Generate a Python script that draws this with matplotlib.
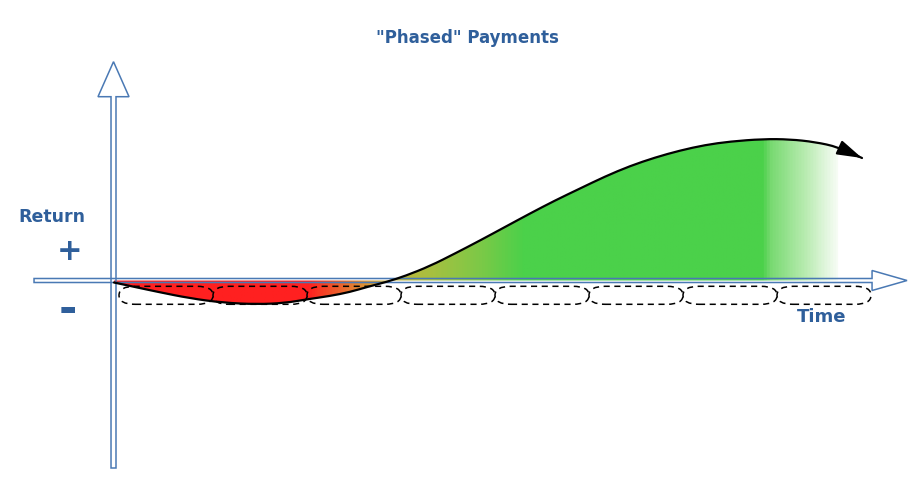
import numpy as np
import matplotlib
matplotlib.use("Agg")
import matplotlib.pyplot as plt
from matplotlib.patches import FancyArrow, PathPatch, FancyBboxPatch
from matplotlib.path import Path
from matplotlib.colors import LinearSegmentedColormap

# ---- data (time in payment periods, return in arbitrary units) ----
time = [-0.053, 0.170, 0.404, 0.755, 1.106, 1.468, 1.766, 2.000, 2.245, 2.457,
        2.638, 2.851, 3.043, 3.309, 3.574, 3.840, 4.106, 4.372, 4.638, 4.904,
        5.170, 5.436, 5.702, 5.968, 6.234, 6.500, 6.851, 7.138, 7.404, 7.649, 7.904]
ret = [-0.20, -0.65, -1.12, -1.78, -2.22, -2.38, -2.25, -1.88, -1.55, -1.15,
       -0.65, -0.13, 0.45, 1.45, 2.70, 4.00, 5.35, 6.70, 8.00, 9.20,
       10.40, 11.45, 12.30, 13.00, 13.55, 13.90, 14.15, 14.12, 13.85, 13.35, 12.25]
payments = [0.5, 1.5, 2.5, 3.5, 4.5, 5.5, 6.5, 7.5]   # centres of the phased payments
fill_end = 7.649

title = '"Phased" Payments'
ylabel = "Return"
xlabel = "Time"

blue_txt = "#2f5f9b"
blue_ax = "#4a79b4"

fig = plt.figure(figsize=(9.23, 4.78), dpi=100)
ax = fig.add_axes([0, 0, 1, 1])
ax.set_xlim(-1.266, 8.553)
ax.set_ylim(-19.75, 28.05)
ax.axis("off")

t = np.array(time)
r = np.array(ret)


def smooth_path_pts(tt, rr):
    """Quadratic-Bezier rendering through the read points (points act as controls)."""
    pts = np.column_stack([tt, rr])
    verts = [tuple(pts[0]), tuple((pts[0] + pts[1]) / 2)]
    codes = [Path.MOVETO, Path.LINETO]
    for i in range(1, len(pts) - 1):
        verts += [tuple(pts[i]), tuple((pts[i] + pts[i + 1]) / 2)]
        codes += [Path.CURVE3, Path.CURVE3]
    verts.append(tuple(pts[-1]))
    codes.append(Path.LINETO)
    return verts, codes


# ---- gradient fill between curve and axis ----
mask = t <= fill_end + 1e-9
fv, fc = smooth_path_pts(t[mask], r[mask])
fv += [(t[mask][-1], 0), (t[mask][0], 0), (0, 0)]
fc += [Path.LINETO, Path.LINETO, Path.CLOSEPOLY]
clip = PathPatch(Path(fv, fc), facecolor="none", edgecolor="none")
ax.add_patch(clip)

stops = [(-0.1, "#ff2020"), (2.0, "#ff2020"), (2.3, "#ee5a2a"), (2.62, "#dc9636"),
         (2.85, "#c9b23b"), (3.33, "#a6c040"), (3.84, "#7cc947"), (4.3, "#4bd14a"),
         (6.86, "#4bd14a"), (6.95, "#79da72"), (7.3, "#b6ebae"), (7.649, "#f6fcf4"),
         (7.75, "#ffffff")]
lo, hi = stops[0][0], stops[-1][0]
cmap = LinearSegmentedColormap.from_list(
    "pay", [((s - lo) / (hi - lo), c) for s, c in stops])
grad = np.linspace(0, 1, 1000).reshape(1, -1)
im = ax.imshow(grad, cmap=cmap, aspect="auto", extent=[lo, hi, -5, 16],
               origin="lower", zorder=1, interpolation="bilinear")
im.set_clip_path(clip)

# ---- phased payments (dashed rounded shapes) ----
for c in payments:
    ax.add_patch(FancyBboxPatch((c - 0.5, -2.38), 1.0, 1.8,
                                boxstyle="round,pad=0,rounding_size=0.17",
                                mutation_aspect=0.9 / 0.17, facecolor="none",
                                edgecolor="black", lw=1.1, linestyle=(0, (4, 3)),
                                zorder=3))

# ---- axes arrows ----
ax.add_patch(FancyArrow(-0.0585, -18.75, 0, 40.63, width=0.053, head_width=0.33,
                        head_length=3.5, length_includes_head=True,
                        facecolor="none", edgecolor=blue_ax, lw=1.1, zorder=2))
ax.add_patch(FancyArrow(-0.904, 0.0, 9.287, 0, width=0.4, head_width=2.0,
                        head_length=0.372, length_includes_head=True,
                        facecolor="none", edgecolor=blue_ax, lw=1.1, zorder=2))

# ---- return curve ----
cv, cc = smooth_path_pts(t, r)
ax.add_patch(PathPatch(Path(cv, cc), facecolor="none", edgecolor="black",
                       lw=1.6, zorder=4, capstyle="round"))
ax.annotate("", xy=(t[-1], r[-1]), xytext=((t[-2] + t[-1]) / 2, (r[-2] + r[-1]) / 2),
            arrowprops=dict(arrowstyle="-|>,head_length=1.5,head_width=0.45",
                            color="black", lw=1.6, shrinkA=0, shrinkB=0),
            zorder=4)

# ---- texts ----
ax.text(0.506, 0.9205, title, transform=ax.transAxes, ha="center", va="center",
        fontsize=12, fontweight="bold", color=blue_txt)
ax.text(0.0563, 0.546, ylabel, transform=ax.transAxes, ha="center", va="center",
        fontsize=12.5, fontweight="bold", color=blue_txt)
ax.text(0.0758, 0.473, "+", transform=ax.transAxes, ha="center", va="center",
        fontsize=22, fontweight="bold", color=blue_txt)
ax.text(0.0737, 0.351, "-", transform=ax.transAxes, ha="center", va="center",
        fontsize=32, fontweight="bold", color=blue_txt)
ax.text(0.8906, 0.337, xlabel, transform=ax.transAxes, ha="center", va="center",
        fontsize=13, fontweight="bold", color=blue_txt)

fig.savefig("out.png", dpi=100)
